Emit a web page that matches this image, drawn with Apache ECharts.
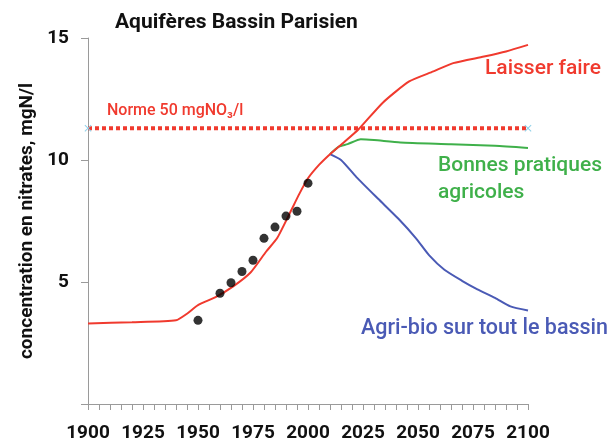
<!DOCTYPE html>
<html>
<head>
<meta charset="utf-8">
<script src="https://cdn.jsdelivr.net/npm/echarts@6/dist/echarts.min.js"></script>
<style>
  html, body { margin: 0; padding: 0; background: #fff; }
  #main { width: 613px; height: 443px; }
</style>
</head>
<body>
<div id="main"></div>
<script>
// données
var laisserYears = [1900, 1920, 1940, 1945, 1950, 1958, 1966, 1974, 1981, 1986, 1992, 1996, 2000, 2005, 2010, 2016, 2023, 2034, 2046, 2057, 2066, 2080, 2090, 2100];
var laisserVals  = [3.3, 3.35, 3.43, 3.7, 4.05, 4.38, 4.82, 5.4, 6.25, 6.8, 7.87, 8.6, 9.25, 9.8, 10.24, 10.7, 11.26, 12.35, 13.22, 13.63, 13.97, 14.24, 14.45, 14.72];

var bonnesYears = [2010, 2014, 2018, 2024, 2030, 2042, 2065, 2085, 2100];
var bonnesVals  = [10.24, 10.55, 10.65, 10.85, 10.82, 10.72, 10.65, 10.58, 10.49];

var bioYears = [2010, 2015, 2022, 2032, 2041, 2049, 2055, 2062, 2070, 2077, 2085, 2092, 2100];
var bioVals  = [10.24, 10.0, 9.3, 8.4, 7.6, 6.8, 6.1, 5.5, 5.05, 4.7, 4.35, 4.0, 3.83];

var mesureYears = [1950, 1960, 1965, 1970, 1975, 1980, 1985, 1990, 1995, 2000];
var mesureVals  = [3.43, 4.54, 4.97, 5.43, 5.89, 6.79, 7.25, 7.7, 7.9, 9.05];

var normeYears = [1900, 2100];
var normeVals  = [11.3, 11.3];

function pairs(xs, ys) {
    return xs.map(function (x, i) { return [x, ys[i]]; });
}

var rouge = '#f03a2e';
var vert = '#3fb04a';
var bleu = '#4a5ab5';
var font = 'Roboto, "DejaVu Sans", sans-serif';
var croix = 'path://M0,1L1,0L5,4L9,0L10,1L6,5L10,9L9,10L5,6L1,10L0,9L4,5Z';

var myChart = echarts.init(document.getElementById('main'));

var option = {
    animation: false,
    grid: { left: 88, right: 85, top: 38, bottom: 36 },
    xAxis: {
        type: 'value',
        min: 1900,
        max: 2100,
        interval: 25,
        axisLine: { lineStyle: { color: '#9a9a9a', width: 1 } },
        axisTick: { length: 6, lineStyle: { color: '#9a9a9a' } },
        minorTick: { show: true, splitNumber: 5, length: 6, lineStyle: { color: '#9a9a9a' } },
        splitLine: { show: false },
        axisLabel: {
            color: '#111', fontFamily: font, fontWeight: 'bold', fontSize: 19, margin: 20,
            formatter: function (v) { return String(v); }
        }
    },
    yAxis: {
        type: 'value',
        min: 0,
        max: 15,
        interval: 5,
        name: 'concentration en nitrates, mgN/l',
        nameLocation: 'middle',
        nameGap: 48,
        nameTextStyle: { color: '#111', fontFamily: font, fontWeight: 'bold', fontSize: 19 },
        axisLine: { show: true, lineStyle: { color: '#9a9a9a', width: 1 } },
        axisTick: { show: true, length: 7, lineStyle: { color: '#9a9a9a' } },
        splitLine: { show: false },
        axisLabel: {
            color: '#111', fontFamily: font, fontWeight: 'bold', fontSize: 19, margin: 19,
            formatter: function (v) { return v === 0 ? '' : v; }
        }
    },
    series: [
        {
            name: 'Norme',
            type: 'line',
            data: pairs(normeYears, normeVals),
            symbol: croix,
            symbolSize: 7,
            itemStyle: { color: '#8fd0e8' },
            lineStyle: { color: rouge, width: 4, type: [4, 3] },
            z: 3
        },
        {
            name: 'Laisser faire',
            type: 'line',
            data: pairs(laisserYears, laisserVals),
            smooth: 0.2,
            showSymbol: false,
            lineStyle: { color: rouge, width: 2 },
            z: 4
        },
        {
            name: 'Bonnes pratiques agricoles',
            type: 'line',
            data: pairs(bonnesYears, bonnesVals),
            smooth: 0.2,
            showSymbol: false,
            lineStyle: { color: vert, width: 2 },
            z: 2
        },
        {
            name: 'Agri-bio sur tout le bassin',
            type: 'line',
            data: pairs(bioYears, bioVals),
            smooth: 0.2,
            showSymbol: false,
            lineStyle: { color: bleu, width: 2 },
            z: 2
        },
        {
            name: 'Mesures',
            type: 'scatter',
            data: pairs(mesureYears, mesureVals),
            symbolSize: 9,
            itemStyle: { color: '#000' },
            z: 5
        }
    ],
    graphic: [
        { type: 'text', left: 115, top: 12, style: { text: 'Aquifères Bassin Parisien', fill: '#111', font: 'bold 21px ' + font } },
        { type: 'text', left: 107, top: 103, style: { text: 'Norme 50 mgNO₃/l', fill: rouge, font: '500 16px ' + font } },
        { type: 'text', left: 485, top: 58, style: { text: 'Laisser faire', fill: rouge, font: '500 21px ' + font } },
        { type: 'text', left: 438, top: 152, style: { text: 'Bonnes pratiques\nagricoles', fill: vert, font: '500 21px ' + font, lineHeight: 27 } },
        { type: 'text', left: 361, top: 318, style: { text: 'Agri-bio sur tout le bassin', fill: bleu, font: '500 21.5px ' + font } }
    ]
};

myChart.setOption(option);
</script>
</body>
</html>
